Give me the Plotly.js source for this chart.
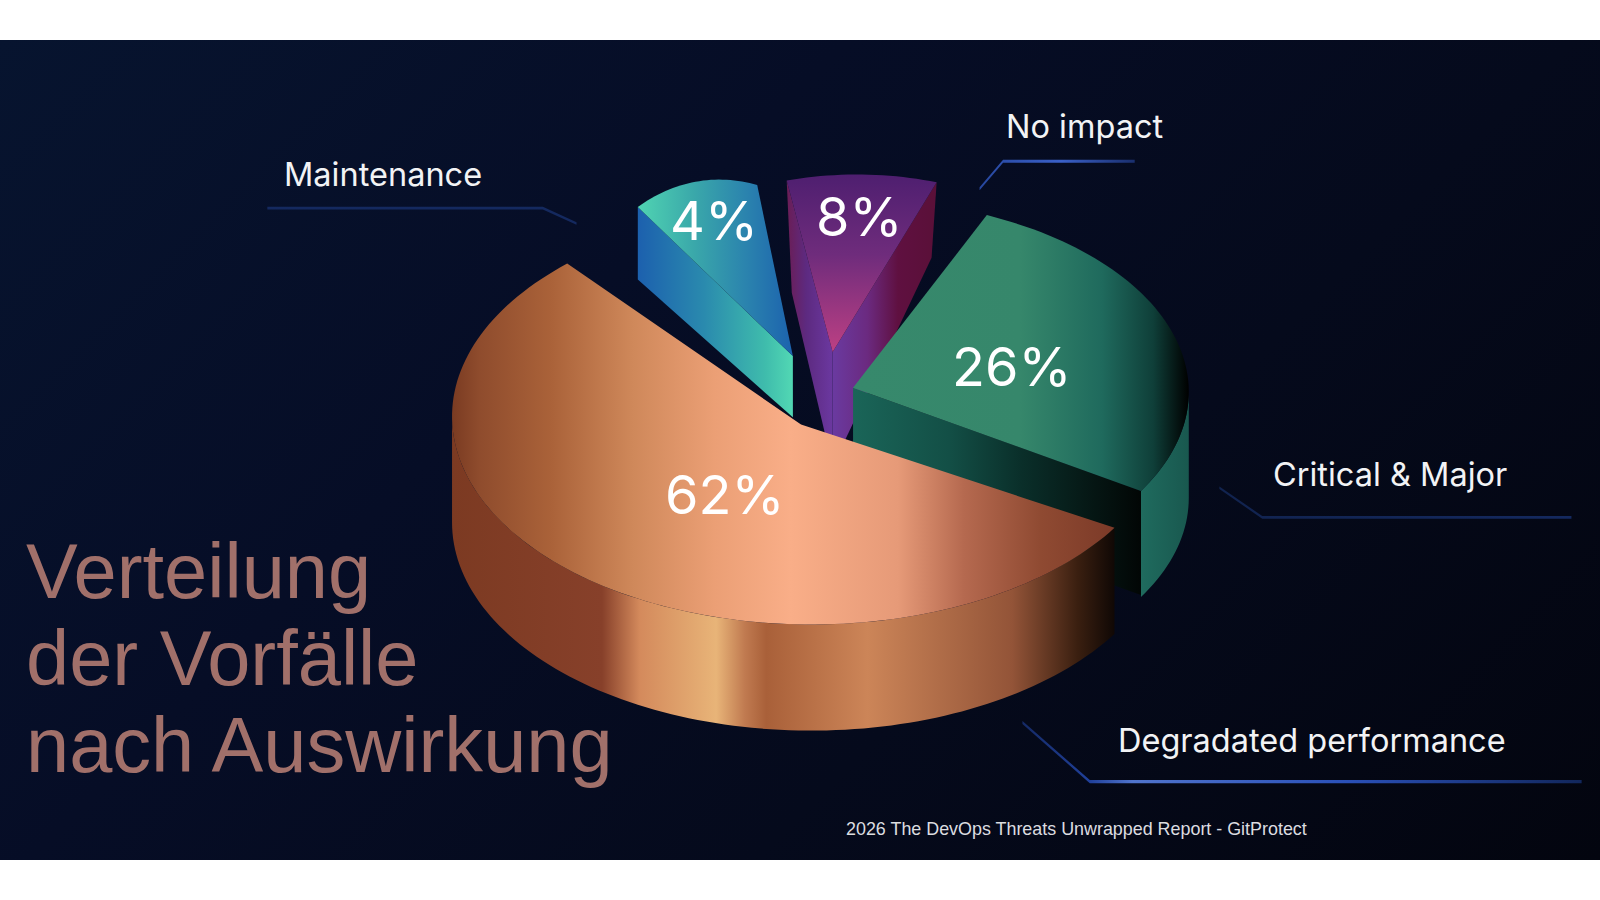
<!DOCTYPE html>
<html>
<head>
<meta charset="utf-8">
<script src="https://cdn.plot.ly/plotly-3.0.1.min.js"></script>
<style>
html,body{margin:0;padding:0;background:#fff;width:1600px;height:900px;overflow:hidden}
#panel{position:absolute;left:0;top:40px;width:1600px;height:820px;
background:linear-gradient(135deg,#07142f 0%,#060d26 35%,#050a1c 65%,#03050f 100%)}
#chart{position:absolute;left:0;top:0;width:1600px;height:900px}
</style>
</head>
<body>
<div id="panel"></div>
<div id="chart"></div>
<script>
// Data
const categories = ['Degradated performance', 'Critical & Major', 'No impact', 'Maintenance'];
const percentages = [62, 26, 8, 4];
// Angles of the slices as they are drawn in the picture (degrees on the disc)
const startDeg = [132.8, -30.9, 72.9, 75.5];
const sweepDeg = [194.8, 97.3, 32.2, 47.2];

const titleLines = ['Verteilung', 'der Vorfälle', 'nach Auswirkung'];
const footer = '2026 The DevOps Threats Unwrapped Report - GitProtect';

// Layout of the exploded disc, in axis units
const hubX = [795, 835, 840, 705];
const hubY = [408, 384, 345, 346];
const apexX = [785, 836, 816, 777];
const apexY = [416, 380, 345, 349];
const radiusX = [352, 330, 265, 148];
const radiusY = [204, 189, 174, 170];
const sideDepth = 104;

const G = {
  orangeSide: [[443,'#7c3a22'],[590,'#87402a'],[627,'#d48a5c'],[702,'#e8b478'],[730,'#c07a50'],[751,'#a96039'],[850,'#cc8558'],[992,'#935438'],[1056,'#3a1f10'],[1092,'#100805']],
  orangeTop: [[443,'#7a3b22'],[470,'#8f4c2d'],[540,'#aa6239'],[620,'#cf885a'],[700,'#eb9f75'],[775,'#f9ae88'],[880,'#e69a78'],[945,'#b5694f'],[1020,'#8f4a32'],[1092,'#7c3a28']],
  greenSide: [[1118,'#1f6b5e'],[1165,'#19584f']],
  greenWall: [[836,'#1a6558'],[930,'#134f46'],[1000,'#0a2f2a'],[1118,'#020605']],
  greenTop: [[840,'#37896c'],[1000,'#36876b'],[1080,'#1f6a5d'],[1130,'#0f3f39'],[1165,'#000000']],
  tealWall: [[625,'#1c60ae'],[690,'#2a8aae'],[750,'#3fbcac'],[777,'#52d8b4']],
  tealTop: [[625,'#50d4b2'],[680,'#3aa8aa'],[730,'#2b84ae'],[777,'#1c62ae']],
  purpleLeft: [[771,'#6b1d55'],[790,'#5d2a80'],[816,'#6b38a0']],
  purpleRight: [[816,'#6a3aa0'],[850,'#6b2a80'],[880,'#5f1040'],[918,'#5a1038']],
  purpleTop: [[172,'#4f1f70'],[250,'#6f2c7c'],[345,'#bd4083']]
};

function fillGrad(stops, type) {
  const a = stops[0][0], b = stops[stops.length - 1][0];
  return {type: type, start: a, stop: b,
    colorscale: stops.map(s => [(s[0] - a) / (b - a), s[1]])};
}
function poly(pts, stops, type) {
  return {type: 'scatter', mode: 'none', fill: 'toself',
    x: pts.map(p => p[0]), y: pts.map(p => p[1]),
    fillgradient: fillGrad(stops, type || 'horizontal'),
    hoverinfo: 'skip', showlegend: false};
}
function onDisc(i, deg) {
  const t = deg * Math.PI / 180;
  return [hubX[i] + radiusX[i] * Math.cos(t), hubY[i] - radiusY[i] * Math.sin(t)];
}
function arc(i, from, to) {
  const n = Math.max(2, Math.ceil(Math.abs(to - from) / 1.5));
  const out = [];
  for (let k = 0; k <= n; k++) out.push(onDisc(i, from + (to - from) * k / n));
  return out;
}
function topFace(i) {
  const a = startDeg[i], b = a + sweepDeg[i];
  return [[apexX[i], apexY[i]]].concat(arc(i, a, b));
}
function rim(i, from, to, depth) {
  const top = arc(i, from, to);
  const low = top.map(p => [p[0], p[1] + depth]).reverse();
  return top.concat(low);
}
function wall(i, deg, outerDepth, outerShift, apexDepth) {
  const o = onDisc(i, deg);
  return [o, [apexX[i], apexY[i]], [apexX[i], apexY[i] + apexDepth], [o[0] + outerShift, o[1] + outerDepth]];
}
function leader(pts, w, stops) {
  const top = pts.map(p => [p[0], p[1] - w / 2]);
  const low = pts.map(p => [p[0], p[1] + w / 2]).reverse();
  return poly(top.concat(low), stops);
}

const D = 0, C = 1, N = 2, M = 3;
const traces = [
  // leader lines
  leader([[262,204],[532,204],[565,219]], 2.6, [[262,'#14295f'],[565,'#14295f']]),
  leader([[960,185],[983,158],[1112,158]], 2.8, [[960,'#27479f'],[1040,'#3a60c8'],[1112,'#1a2f6e']]),
  leader([[1195,478],[1237,507],[1540,507]], 2.6, [[1195,'#11234f'],[1540,'#14295f']]),
  leader([[1002,708],[1068,766],[1550,766]], 3, [[1002,'#152a66'],[1068,'#20409a'],[1110,'#5074cc'],[1320,'#2a50b8'],[1550,'#12275c']]),
  // No impact
  poly(wall(N, startDeg[N] + sweepDeg[N], 110, 5, 112), G.purpleLeft),
  poly(wall(N, startDeg[N], 74, -5, 112), G.purpleRight),
  poly(topFace(N), G.purpleTop, 'vertical'),
  // Maintenance
  poly(wall(M, startDeg[M] + sweepDeg[M], 71, 0, 60), G.tealWall),
  poly(topFace(M), G.tealTop),
  // Critical & Major
  poly(rim(C, startDeg[C], 0, sideDepth), G.greenSide),
  poly(wall(C, startDeg[C], 102, 0, 102), G.greenWall),
  poly(topFace(C), G.greenTop),
  // Degradated performance
  poly(rim(D, 180, startDeg[D] + sweepDeg[D], sideDepth), G.orangeSide),
  poly(topFace(D), G.orangeTop)
];

const pctX = [710, 991, 842, 700], pctY = [485, 359, 212, 216];
const catX = [1286, 1362, 1063, 375], catY = [726, 465, 124, 171];
const titleY = [560, 645, 730];

function note(x, y, text, size, color, family, anchor) {
  return {x: x, y: y, xref: 'x', yref: 'y', text: text, showarrow: false,
    xanchor: anchor || 'center', yanchor: 'middle',
    font: {size: size, color: color, family: family}};
}
const annotations = [];
percentages.forEach((v, i) => annotations.push(note(pctX[i], pctY[i], v + '%', 54, '#ffffff', 'Inter')));
categories.forEach((c, i) => annotations.push(note(catX[i], catY[i], c, 32.5, '#f2f3f5', 'Inter')));
titleLines.forEach((t, i) => annotations.push(note(24, titleY[i], t, 77.6, '#a1706a', 'Liberation Sans', 'left')));
annotations.push(note(1055, 812, footer, 17.9, '#dcdde0', 'Liberation Sans'));

Plotly.newPlot('chart', traces, {
  width: 1600, height: 900,
  margin: {l: 0, r: 0, t: 0, b: 0},
  paper_bgcolor: 'rgba(0,0,0,0)', plot_bgcolor: 'rgba(0,0,0,0)',
  showlegend: false,
  xaxis: {range: [0, 1568], visible: false, fixedrange: true},
  yaxis: {range: [882, 0], visible: false, fixedrange: true},
  annotations: annotations
}, {displayModeBar: false, staticPlot: true});
</script>
</body>
</html>
